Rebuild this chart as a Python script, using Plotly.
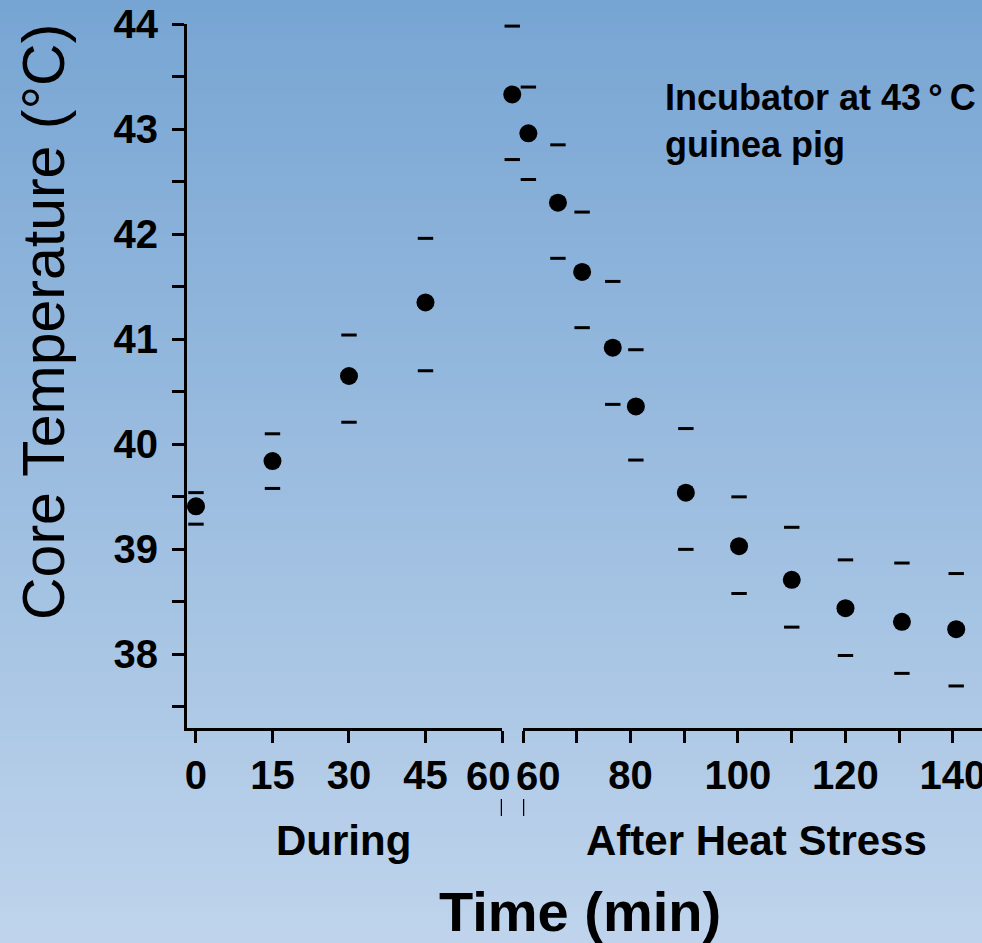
import plotly.graph_objects as go

# ---------------- data ----------------
during_time = [0, 15, 30, 45]
during_mean = [39.41, 39.84, 40.65, 41.35]
during_upper = [39.54, 40.10, 41.04, 41.96]
during_lower = [39.24, 39.58, 40.21, 40.70]

after_time = [58, 61, 66.5, 71, 76.7, 81, 90.3, 100.2, 110, 120, 130.5, 140.6]
after_mean = [43.33, 42.96, 42.30, 41.64, 40.92, 40.36, 39.54, 39.03, 38.71, 38.44, 38.31, 38.24]
after_upper = [43.98, 43.40, 42.85, 42.21, 41.55, 40.90, 40.15, 39.50, 39.21, 38.90, 38.87, 38.77]
after_lower = [42.71, 42.52, 41.77, 41.11, 40.38, 39.85, 39.00, 38.58, 38.26, 37.99, 37.82, 37.70]

# the two "60" labels at the axis break are set beside their ticks (annotations below)
during_ticks = [0, 15, 30, 45, 60]
during_ticktext = ["0", "15", "30", "45", ""]
after_tickvals = [60, 70, 80, 90, 100, 110, 120, 130, 140]
after_ticktext = ["", "", "80", "", "100", "", "120", "", "140"]
break_label = "60"
y_tickvals = [37.5, 38, 38.5, 39, 39.5, 40, 40.5, 41, 41.5, 42, 42.5, 43, 43.5, 44]
y_ticktext = ["", "38", "", "39", "", "40", "", "41", "", "42", "", "43", "", "44"]

# ---------------- layout constants ----------------
W, H = 982, 943
ML, MR, MT, MB = 187, 0, 24, 215
PW = W - ML - MR
PH = H - MT - MB
D1 = (502 - ML) / PW          # end of left segment
D2 = (523 - ML) / PW          # start of right segment
X1_RANGE = [-1.76, 60]
X2_RANGE = [60, 145.4]
# hidden full-width axis with the same scale as the right segment
x3_min = X2_RANGE[0] - D2 * (X2_RANGE[1] - X2_RANGE[0]) / (1 - D2)
X3_RANGE = [x3_min, X2_RANGE[1]]
Y_RANGE = [37.3, 44]

FONT = "Liberation Sans, Arial, sans-serif"
BLACK = "#000000"


def px_x(px):
    return (px - ML) / PW


def px_y(py):
    return ((H - MB) - py) / PH


fig = go.Figure()

dot = dict(size=18, color=BLACK)
dash = dict(symbol="line-ew", size=11, line=dict(width=3, color=BLACK))

# during heat stress
fig.add_trace(go.Scatter(x=during_time, y=during_upper, mode="markers", marker=dash,
                         xaxis="x", yaxis="y", hoverinfo="skip"))
fig.add_trace(go.Scatter(x=during_time, y=during_lower, mode="markers", marker=dash,
                         xaxis="x", yaxis="y", hoverinfo="skip"))
fig.add_trace(go.Scatter(x=during_time, y=during_mean, mode="markers", marker=dot,
                         xaxis="x", yaxis="y", cliponaxis=False))

# after heat stress
fig.add_trace(go.Scatter(x=after_time, y=after_upper, mode="markers", marker=dash,
                         xaxis="x3", yaxis="y", hoverinfo="skip"))
fig.add_trace(go.Scatter(x=after_time, y=after_lower, mode="markers", marker=dash,
                         xaxis="x3", yaxis="y", hoverinfo="skip"))
fig.add_trace(go.Scatter(x=after_time, y=after_mean, mode="markers", marker=dot,
                         xaxis="x3", yaxis="y"))

# background gradient (top -> bottom)
top_c = (119, 165, 211)
bot_c = (191, 212, 236)
y_top = px_y(0)
y_bot = px_y(H)
N = 80
shapes = []
for i in range(N):
    t = (i + 0.5) / N
    c = tuple(round(top_c[k] + (bot_c[k] - top_c[k]) * t) for k in range(3))
    y0 = y_top - (y_top - y_bot) * i / N
    y1 = y_top - (y_top - y_bot) * (i + 1) / N
    shapes.append(dict(type="rect", xref="paper", yref="paper", x0=px_x(-5), x1=px_x(W + 5),
                       y0=y1 - 0.001, y1=y0 + 0.001, line=dict(width=0),
                       fillcolor="rgb(%d,%d,%d)" % c, layer="below"))

# axis break marks
for xr in ("x", "x2"):
    shapes.append(dict(type="line", xref=xr, yref="paper", x0=60, x1=60,
                       y0=px_y(816), y1=px_y(799),
                       line=dict(color=BLACK, width=2.5)))

tickfont = dict(family=FONT, size=40, color=BLACK, weight="bold")
axis_common = dict(showline=True, linecolor=BLACK, linewidth=3, ticks="outside",
                   ticklen=12, tickwidth=3, tickcolor=BLACK, showgrid=False,
                   zeroline=False, fixedrange=True, automargin=False,
                   ticklabeloverflow="allow", tickfont=tickfont)

fig.update_layout(
    width=W, height=H,
    margin=dict(l=ML, r=MR, t=MT, b=MB, autoexpand=False),
    paper_bgcolor="rgb(155,189,224)",
    plot_bgcolor="rgba(0,0,0,0)",
    showlegend=False,
    shapes=shapes,
    xaxis=dict(domain=[0, D1], range=X1_RANGE, tickvals=during_ticks,
               ticktext=during_ticktext, anchor="y",
               ticklabelstandoff=-2, **axis_common),
    xaxis2=dict(domain=[D2, 1], range=X2_RANGE, tickvals=after_tickvals,
                ticktext=after_ticktext, anchor="y",
                ticklabelstandoff=-2, **axis_common),
    xaxis3=dict(domain=[0, 1], range=X3_RANGE, visible=False, anchor="y",
                fixedrange=True, automargin=False),
    yaxis=dict(domain=[0, 1], range=Y_RANGE, tickvals=y_tickvals, ticktext=y_ticktext,
               anchor="x", ticklabelstandoff=6, **axis_common),
    annotations=[
        dict(text=break_label, xref="x", yref="paper", x=60, xshift=-14, y=px_y(776),
             showarrow=False, xanchor="center", yanchor="middle", font=tickfont),
        dict(text=break_label, xref="x2", yref="paper", x=60, xshift=15, y=px_y(776),
             showarrow=False, xanchor="center", yanchor="middle", font=tickfont),
        dict(text="Core Temperature (°C)", textangle=-90, xref="paper", yref="paper",
             x=px_x(44), y=px_y(322),
             showarrow=False, xanchor="center", yanchor="middle",
             font=dict(family=FONT, size=59, color=BLACK)),
        dict(text="During", xref="paper", yref="paper",
             x=px_x(343), y=px_y(840),
             showarrow=False, xanchor="center", yanchor="middle",
             font=dict(family=FONT, size=42, color=BLACK, weight="bold")),
        dict(text="After Heat Stress", xref="paper", yref="paper",
             x=px_x(756), y=px_y(840),
             showarrow=False, xanchor="center", yanchor="middle",
             font=dict(family=FONT, size=42, color=BLACK, weight="bold")),
        dict(text="Time (min)", xref="paper", yref="paper",
             x=px_x(580), y=px_y(912),
             showarrow=False, xanchor="center", yanchor="middle",
             font=dict(family=FONT, size=56, color=BLACK, weight="bold")),
        dict(text="Incubator at 43\u2009°\u2009C<br>guinea pig", xref="paper", yref="paper",
             x=px_x(663), y=px_y(75),
             showarrow=False, xanchor="left", yanchor="top", align="left",
             font=dict(family=FONT, size=36, color=BLACK, weight="bold")),
    ],
)

fig.write_html("out.html")
